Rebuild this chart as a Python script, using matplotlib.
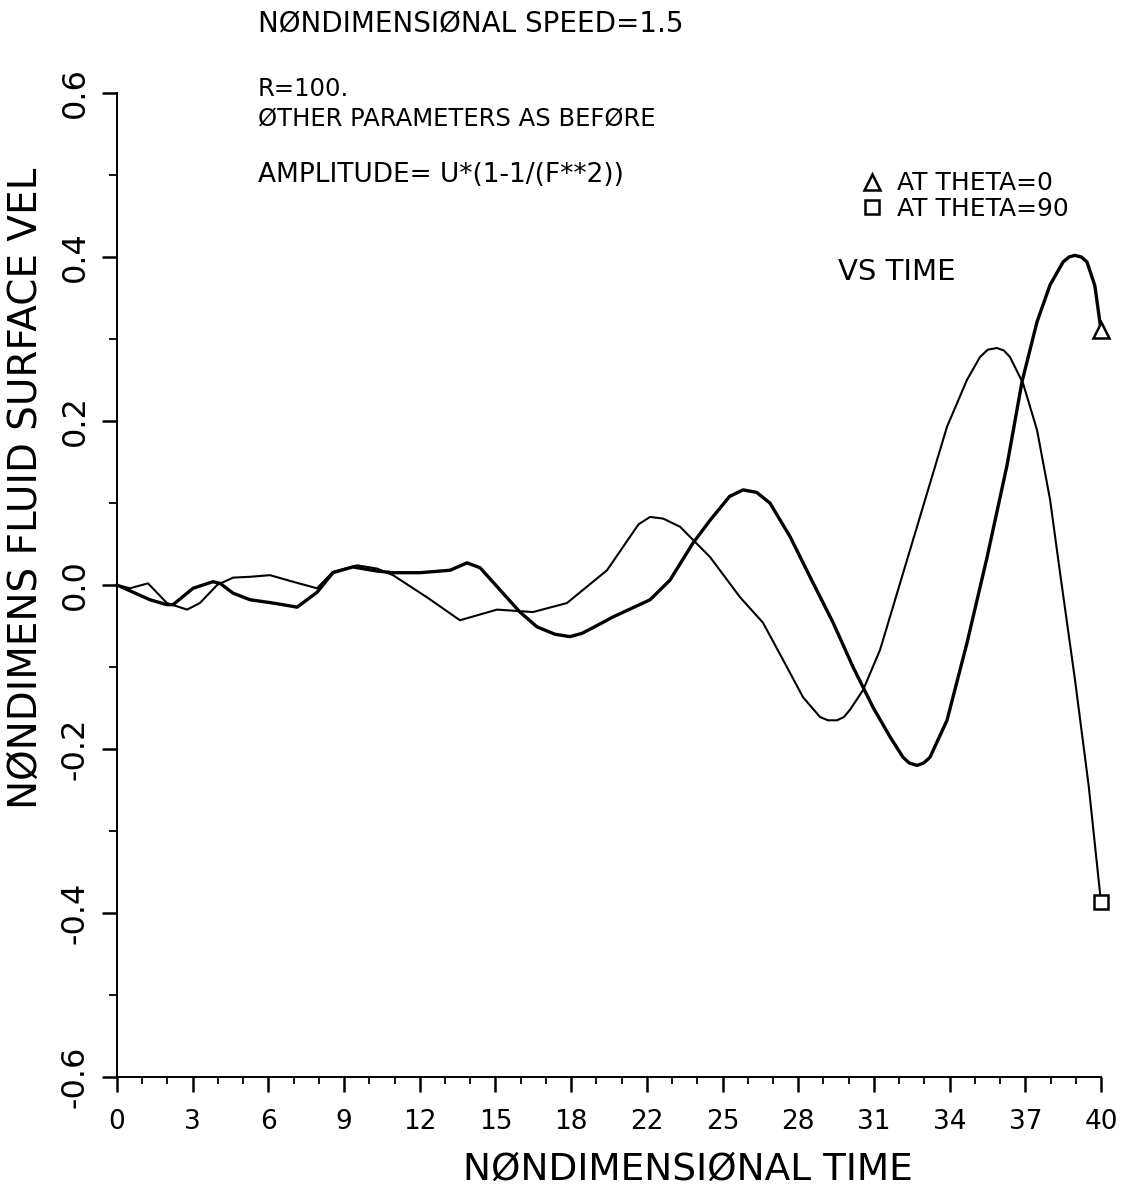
import matplotlib
matplotlib.use("Agg")
import matplotlib.pyplot as plt
from matplotlib.lines import Line2D
from matplotlib.ticker import FixedLocator

# curva con triangulo (THETA=0)
t_theta0 = [0.00, 1.34, 2.03, 2.28, 3.09, 3.90, 4.19, 4.72, 5.41, 6.34, 7.32, 8.13,
            8.78, 9.59, 10.57, 11.22, 12.32, 13.54, 14.23, 14.76, 15.57, 16.38, 17.07,
            17.80, 18.41, 18.90, 19.35, 20.16, 21.67, 22.48, 23.41, 24.11, 24.90, 25.45,
            26.00, 26.54, 27.36, 28.17, 29.11, 29.92, 30.73, 31.42, 31.95, 32.20, 32.52,
            32.80, 33.05, 33.74, 34.55, 35.37, 36.18, 36.79, 37.40, 37.93, 38.46, 38.70,
            38.94, 39.20, 39.43, 39.75, 40.00]
v_theta0 = [0.000, -0.018, -0.024, -0.024, -0.004, 0.004, 0.002, -0.010, -0.018, -0.022,
            -0.027, -0.009, 0.015, 0.022, 0.017, 0.015, 0.015, 0.018, 0.027, 0.021,
            -0.006, -0.033, -0.051, -0.060, -0.063, -0.059, -0.052, -0.039, -0.018, 0.006,
            0.051, 0.079, 0.108, 0.116, 0.113, 0.100, 0.059, 0.010, -0.046, -0.100,
            -0.149, -0.185, -0.210, -0.217, -0.220, -0.217, -0.210, -0.165, -0.071, 0.034,
            0.146, 0.248, 0.321, 0.366, 0.394, 0.400, 0.402, 0.400, 0.394, 0.365, 0.311]

# curva con cuadrado (THETA=90)
t_theta90 = [0.00, 0.53, 1.26, 2.03, 2.85, 3.37, 4.07, 4.72, 5.41, 6.22, 7.15, 8.13,
             8.78, 9.76, 10.57, 11.22, 12.60, 13.94, 15.45, 16.91, 18.29, 19.92, 21.20,
             21.67, 22.20, 22.89, 24.11, 25.33, 26.26, 27.07, 27.89, 28.58, 28.90, 29.27,
             29.55, 29.80, 30.33, 31.02, 31.83, 32.76, 33.74, 34.55, 35.08, 35.40, 35.77,
             36.05, 36.30, 36.83, 37.40, 37.93, 38.33, 38.94, 39.50, 40.00]
v_theta90 = [0.000, -0.004, 0.002, -0.022, -0.030, -0.022, 0.000, 0.009, 0.010, 0.012,
             0.004, -0.004, 0.016, 0.024, 0.020, 0.012, -0.015, -0.043, -0.030, -0.033,
             -0.022, 0.018, 0.074, 0.083, 0.081, 0.071, 0.034, -0.015, -0.046, -0.091,
             -0.137, -0.161, -0.165, -0.165, -0.161, -0.152, -0.128, -0.079, 0.002, 0.095,
             0.193, 0.250, 0.278, 0.287, 0.289, 0.286, 0.278, 0.246, 0.189, 0.104, 0.016,
             -0.115, -0.245, -0.387]

x_labels = ["0", "3", "6", "9", "12", "15", "18", "22", "25", "28", "31", "34", "37", "40"]
y_ticks = [-0.6, -0.4, -0.2, 0.0, 0.2, 0.4, 0.6]
y_labels = ["-0.6", "-0.4", "-0.2", "0.0", "0.2", "0.4", "0.6"]

W, H = 1136, 1187
fig = plt.figure(figsize=(W / 100, H / 100), dpi=100)
ax = fig.add_axes([117 / W, 1 - 1077 / H, 984 / W, 984 / H])

ax.plot(t_theta0, v_theta0, color="black", lw=2.4, marker="^", markevery=[-1],
        ms=11, mfc="white", mec="black", mew=1.8, clip_on=False)
ax.plot(t_theta90, v_theta90, color="black", lw=1.5, marker="s", markevery=[-1],
        ms=10, mfc="white", mec="black", mew=1.8, clip_on=False)

ax.set_xlim(0, 40)
ax.set_ylim(-0.6, 0.6)
for s in ["top", "right"]:
    ax.spines[s].set_visible(False)
for s in ["left", "bottom"]:
    ax.spines[s].set_linewidth(1.4)

n = len(x_labels) - 1
ax.set_xticks([40 * i / n for i in range(n + 1)])
ax.set_xticklabels(x_labels)
ax.xaxis.set_minor_locator(FixedLocator([40 * i / (3 * n) for i in range(3 * n + 1) if i % 3]))
ax.set_yticks(y_ticks)
ax.set_yticklabels(y_labels, rotation=90, va="center")
ax.yaxis.set_minor_locator(FixedLocator([-0.5, -0.3, -0.1, 0.1, 0.3, 0.5]))

ax.tick_params(axis="x", which="major", direction="out", length=11, width=1.8,
               pad=12, labelsize=19)
ax.tick_params(axis="x", which="minor", direction="out", length=5, width=1.3)
ax.tick_params(axis="y", which="major", direction="out", length=11, width=1.8,
               pad=8, labelsize=23)
ax.tick_params(axis="y", which="minor", direction="out", length=6, width=1.3)

ax.set_xlabel("NØNDIMENSIØNAL TIME", fontsize=27, va="center", ha="center")
ax.xaxis.set_label_coords(0.580, -0.0945)
ax.set_ylabel("NØNDIMENS FLUID SURFACE VEL", fontsize=28, va="center", ha="center")
ax.yaxis.set_label_coords(-0.0925, 0.5986)

def ftext(x, y, s, size=17.5):
    fig.text(x / W, 1 - y / H, s, fontsize=size, ha="left", va="center")

ftext(258, 24, "NØNDIMENSIØNAL SPEED=1.5", size=20)
ftext(258, 89, "R=100.")
ftext(258, 118, "ØTHER PARAMETERS AS BEFØRE")
ftext(258, 175, "AMPLITUDE= U*(1-1/(F**2))", size=19)
ftext(838, 272, "VS TIME", size=21)

handles = [
    Line2D([], [], ls="none", marker="^", ms=11, mfc="white", mec="black", mew=1.8),
    Line2D([], [], ls="none", marker="s", ms=10, mfc="white", mec="black", mew=1.8),
]
fig.legend(handles, ["AT THETA=0", "AT THETA=90"], loc="center left",
           bbox_to_anchor=(850 / W, 1 - 196 / H), frameon=False, fontsize=18,
           handlelength=0.8, handletextpad=0.6, labelspacing=0.05, borderpad=0)

fig.savefig("out.png", dpi=100, facecolor="white")
